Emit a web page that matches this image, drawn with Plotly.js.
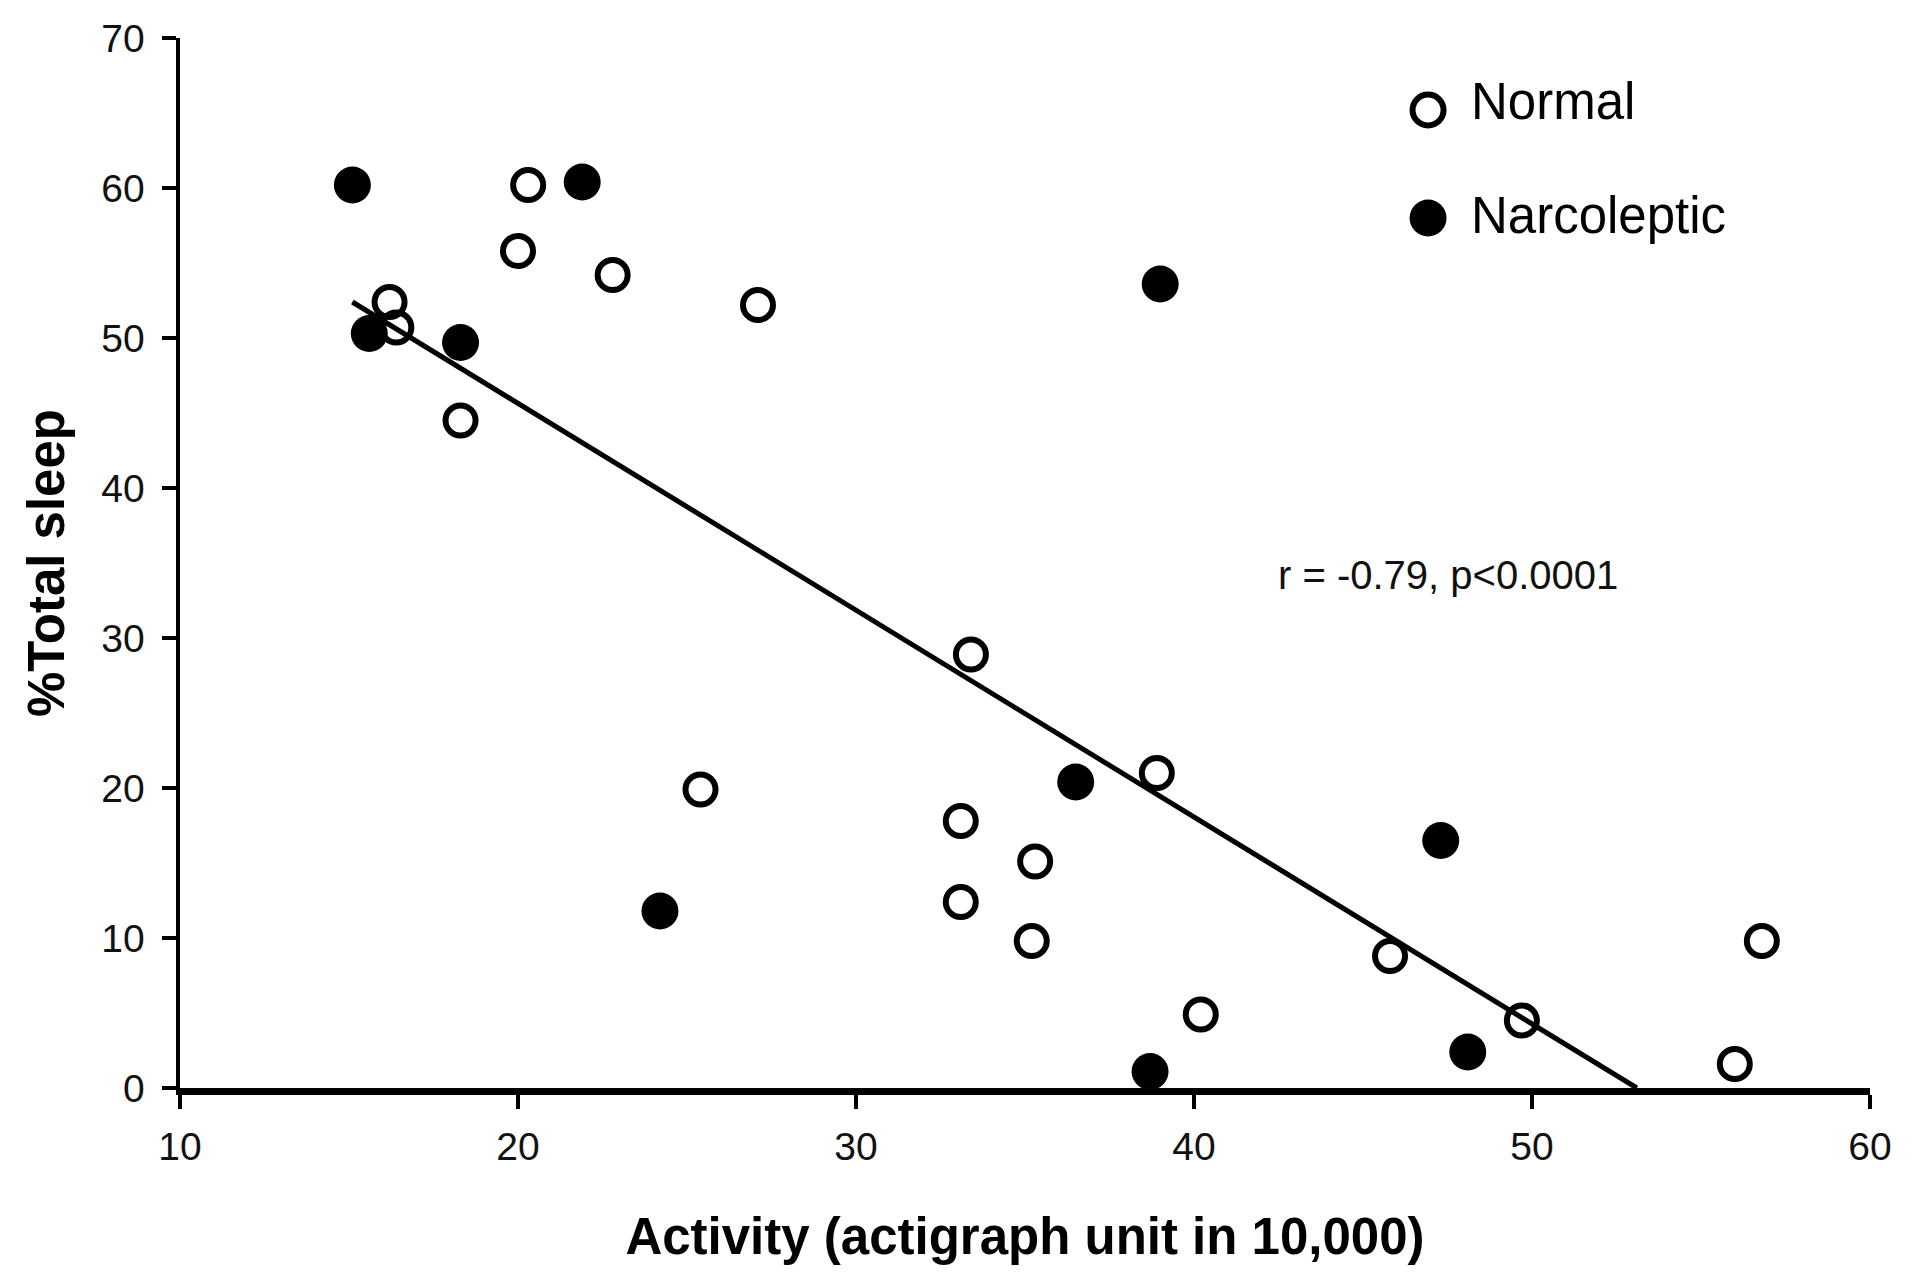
<!DOCTYPE html>
<html>
<head>
<meta charset="utf-8">
<script src="https://cdn.plot.ly/plotly-3.0.1.min.js"></script>
<style>html,body{margin:0;padding:0;background:#fff;}#chart{width:1920px;height:1281px;}</style>
</head>
<body>
<div id="chart"></div>
<script>
// Normal subjects (open circles)
const normalActivity = [16.2, 16.4, 18.3, 20.0, 20.3, 22.8, 27.1, 25.4, 33.4, 33.1, 33.1, 35.3, 35.2, 38.9, 40.2, 45.8, 49.7, 56.8, 56.0];
const normalSleep    = [52.4, 50.7, 44.5, 55.8, 60.2, 54.2, 52.2, 19.9, 28.9, 17.8, 12.4, 15.1, 9.8, 21.0, 4.9, 8.8, 4.5, 9.8, 1.6];
// Narcoleptic subjects (filled circles)
const narcoActivity = [15.1, 21.9, 15.6, 18.3, 39.0, 36.5, 24.2, 38.7, 47.3, 48.1];
const narcoSleep    = [60.2, 60.4, 50.3, 49.7, 53.6, 20.4, 11.8, 1.1, 16.5, 2.4];
// Regression line end points (as drawn)
const fitActivity = [15.1, 53.1];
const fitSleep    = [52.4, 0];
// Axis ticks
const xTicks = [10, 20, 30, 40, 50, 60];
const yTicks = [0, 10, 20, 30, 40, 50, 60, 70];
const seriesNames = ['Normal', 'Narcoleptic'];
const statText = 'r = -0.79, p<0.0001';

const FONT = '"Liberation Sans", Arial, Helvetica, sans-serif';

const traces = [
  {x: fitActivity, y: fitSleep, type: 'scatter', mode: 'lines',
   line: {color: '#000', width: 5}, showlegend: false, hoverinfo: 'skip'},
  {x: normalActivity, y: normalSleep, type: 'scatter', mode: 'markers', name: seriesNames[0],
   marker: {symbol: 'circle-open', size: 30, color: '#000', line: {width: 6, color: '#000'}}},
  {x: narcoActivity, y: narcoSleep, type: 'scatter', mode: 'markers', name: seriesNames[1],
   marker: {symbol: 'circle', size: 37, color: '#000', line: {width: 0}}}
];

// manual legend (paper coordinates)
const legX = 0.7385, legTextX = 0.7625;
const legY = [0.9314, 0.8286];
const legTextY = [0.940, 0.8305];

const layout = {
  width: 1920, height: 1281,
  margin: {l: 179.5, r: 50, t: 38, b: 193, pad: 0},
  paper_bgcolor: '#fff', plot_bgcolor: '#fff',
  showlegend: false,
  font: {family: FONT, color: '#000'},
  xaxis: {
    range: [10, 60], tickvals: xTicks, ticktext: xTicks.map(String),
    showgrid: false, zeroline: false,
    showline: true, linecolor: '#000', linewidth: 7,
    ticks: 'outside', ticklen: 14, tickwidth: 4, tickcolor: '#000',
    tickfont: {size: 39, family: FONT, color: '#111'},
    ticklabelstandoff: 4,
    title: {text: 'Activity (actigraph unit in 10,000)', standoff: 54,
            font: {size: 51, family: FONT, weight: 'bold', color: '#000'}}
  },
  yaxis: {
    range: [0, 70], tickvals: yTicks, ticktext: yTicks.map(String),
    showgrid: false, zeroline: false,
    showline: true, linecolor: '#000', linewidth: 4.5,
    ticks: 'outside', ticklen: 14, tickwidth: 4, tickcolor: '#000',
    tickfont: {size: 39, family: FONT, color: '#111'},
    ticklabelstandoff: 9,
    title: {text: '%Total sleep', standoff: 22,
            font: {size: 51, family: FONT, weight: 'bold', color: '#000'}}
  },
  shapes: [
    {type: 'circle', xref: 'paper', yref: 'paper', xsizemode: 'pixel', ysizemode: 'pixel',
     xanchor: legX, yanchor: legY[0], x0: -15.5, x1: 15.5, y0: -15.5, y1: 15.5,
     line: {color: '#000', width: 6}, fillcolor: 'rgba(0,0,0,0)'},
    {type: 'circle', xref: 'paper', yref: 'paper', xsizemode: 'pixel', ysizemode: 'pixel',
     xanchor: legX, yanchor: legY[1], x0: -18.5, x1: 18.5, y0: -18.5, y1: 18.5,
     line: {width: 0}, fillcolor: '#000'}
  ],
  annotations: [
    {xref: 'paper', yref: 'paper', x: legTextX, y: legTextY[0], xanchor: 'left', yanchor: 'middle',
     text: seriesNames[0], showarrow: false, font: {size: 51, family: FONT, color: '#000'}},
    {xref: 'paper', yref: 'paper', x: legTextX, y: legTextY[1], xanchor: 'left', yanchor: 'middle',
     text: seriesNames[1], showarrow: false, font: {size: 51, family: FONT, color: '#000'}},
    {xref: 'paper', yref: 'paper', x: 0.6487, y: 0.4886, xanchor: 'left', yanchor: 'middle',
     text: statText, showarrow: false, font: {size: 40, family: FONT, color: '#111'}}
  ]
};

Plotly.newPlot('chart', traces, layout, {staticPlot: true, displayModeBar: false});
</script>
</body>
</html>
